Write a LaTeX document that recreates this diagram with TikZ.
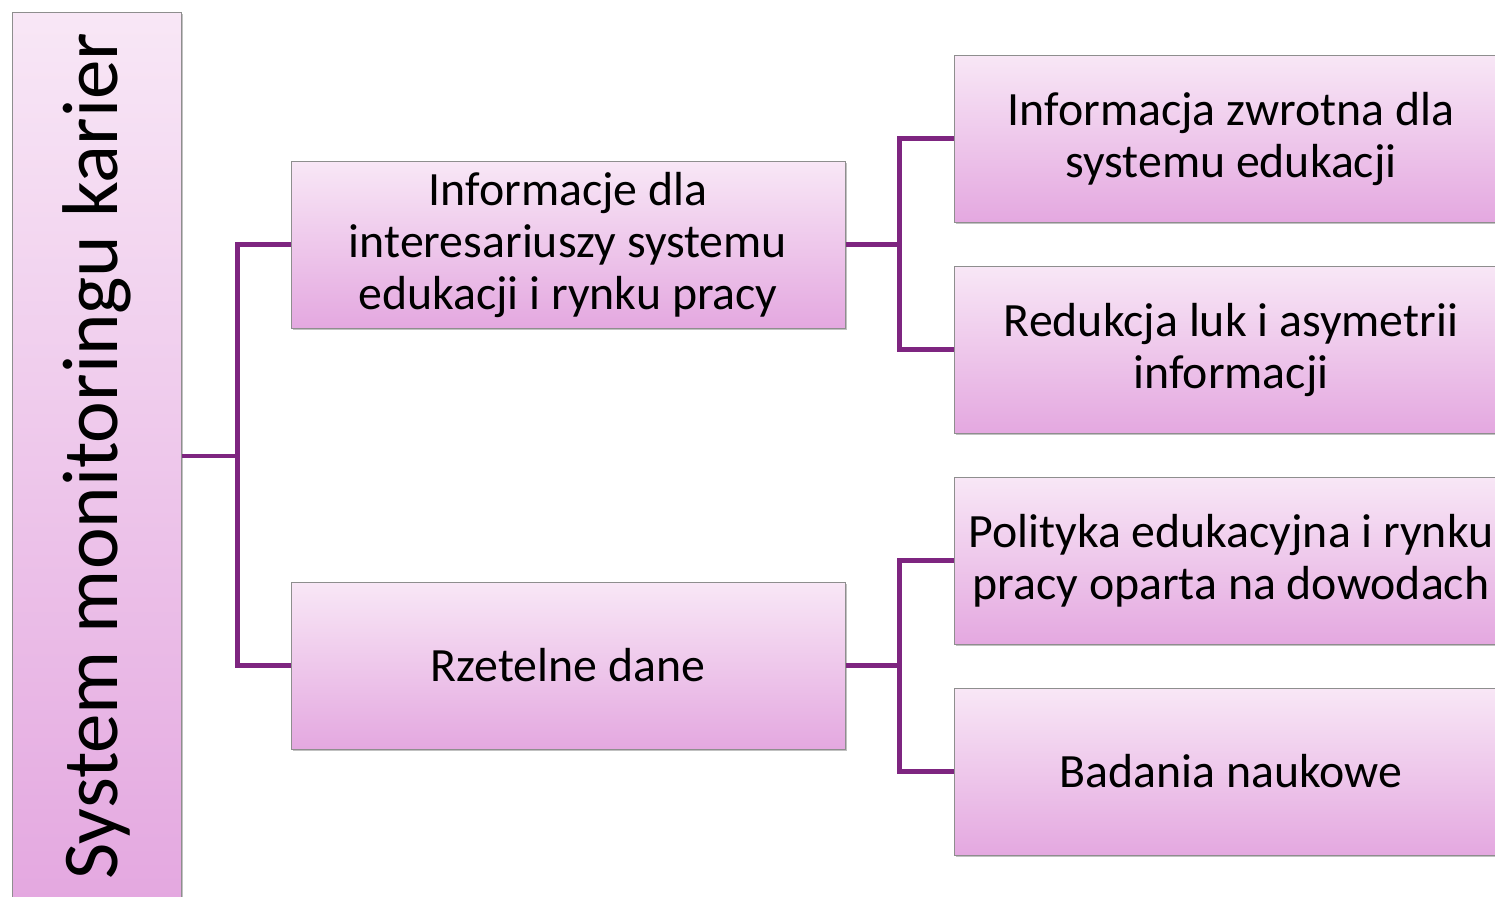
\documentclass[tikz,border=0pt]{standalone}
\usepackage{fontspec}
\setmainfont{Carlito}
\usetikzlibrary{positioning,shadows}
\definecolor{boxtop}{HTML}{F8E7F6}
\definecolor{boxbottom}{HTML}{E4A8E0}
\definecolor{linkcol}{HTML}{7E2580}
\definecolor{boxedge}{HTML}{8E8E8E}

\begin{document}
\begin{tikzpicture}[x=0.5pt,y=-0.5pt,node distance=105.5pt,on grid,
    leaf/.style={draw=boxedge,line width=0.5pt,top color=boxtop,bottom color=boxbottom,
      minimum width=277pt,minimum height=83.5pt,inner sep=0pt,align=center,
      font=\fontsize{23.9}{26}\selectfont,
      drop shadow={shadow xshift=0.8pt,shadow yshift=-1.2pt,opacity=0.35,fill=black!70}},
    link/.style={draw=linkcol,line width=2.3pt}]
  \useasboundingbox (0,0) rectangle (1495,896);

  \node[leaf,minimum width=84.5pt,minimum height=444pt,font=\fontsize{39.5}{46}\selectfont]
    (root) at (96.5,456) {\rotatebox{90}{System monitoringu karier}};

  \node[leaf] (info) at (568,244.5) {Informacje dla\\interesariuszy systemu\\edukacji i rynku pracy};
  \node[leaf] (dane) [below=210.5pt of info] {Rzetelne dane};

  \node[leaf] (zwrot) at (1231,138.5) {Informacja zwrotna dla\\systemu edukacji};
  \node[leaf] (luki) [below=of zwrot] {Redukcja luk i asymetrii\\informacji};
  \node[leaf] (polityka) [below=of luki] {Polityka edukacyjna i rynku\\pracy oparta na dowodach};
  \node[leaf] (badania) [below=of polityka] {Badania naukowe};

  % root -> two branches
  \draw[link] (root.east) -- ++(56,0) coordinate (rj);
  \draw[link] (info.west) -| (rj) |- (dane.west);

  % branch -> leaves
  \draw[link] (info.east) -- ++(54,0) coordinate (ij);
  \draw[link] (zwrot.west) -| (ij) |- (luki.west);
  \draw[link] (dane.east) -- ++(54,0) coordinate (dj);
  \draw[link] (polityka.west) -| (dj) |- (badania.west);
\end{tikzpicture}
\end{document}
